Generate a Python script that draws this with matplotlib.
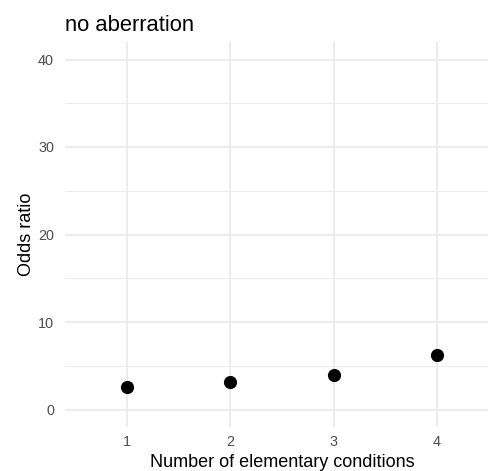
import matplotlib
matplotlib.use("Agg")
import matplotlib.pyplot as plt
from matplotlib.ticker import MultipleLocator

conditions = [1, 2, 3, 4]
odds_ratio = [2.59, 3.16, 3.96, 6.27]
y_ticks = [0, 10, 20, 30, 40]
title = "no aberration"
xlabel = "Number of elementary conditions"
ylabel = "Odds ratio"

plt.rcParams['font.family'] = ['Liberation Sans', 'DejaVu Sans']

W, H = 489, 471
fig = plt.figure(figsize=(W / 100, H / 100), dpi=100)
px_per_x = 103.3
left_px = 65
top_px = 42
bottom_px = 427
width_px = 4.2 * px_per_x
ax = fig.add_axes([left_px / W, 1 - bottom_px / H, width_px / W, (bottom_px - top_px) / H])

ax.set_xlim(0.4, 4.6)
ax.set_ylim(-2, 42)
ax.set_xticks(conditions)
ax.set_yticks(y_ticks)
ax.yaxis.set_minor_locator(MultipleLocator(5))

ax.grid(which='major', color='#EBEBEB', linewidth=1.3)
ax.grid(which='minor', axis='y', color='#EBEBEB', linewidth=0.65)
ax.set_axisbelow(True)
for s in ax.spines.values():
    s.set_visible(False)
ax.tick_params(which='both', length=0, labelsize=10.4, labelcolor='#4D4D4D')
ax.tick_params(axis='x', pad=6)
ax.tick_params(axis='y', pad=8)

ax.scatter(conditions, odds_ratio, s=90, color='black', zorder=3, linewidths=0)

ax.set_xlabel(xlabel, fontsize=13, color='black', labelpad=3.4)
ax.set_ylabel(ylabel, fontsize=13, color='black', labelpad=2)
ax.set_title(title, fontsize=15.8, loc='left', pad=8, color='black')

fig.savefig("out.png", dpi=100)
